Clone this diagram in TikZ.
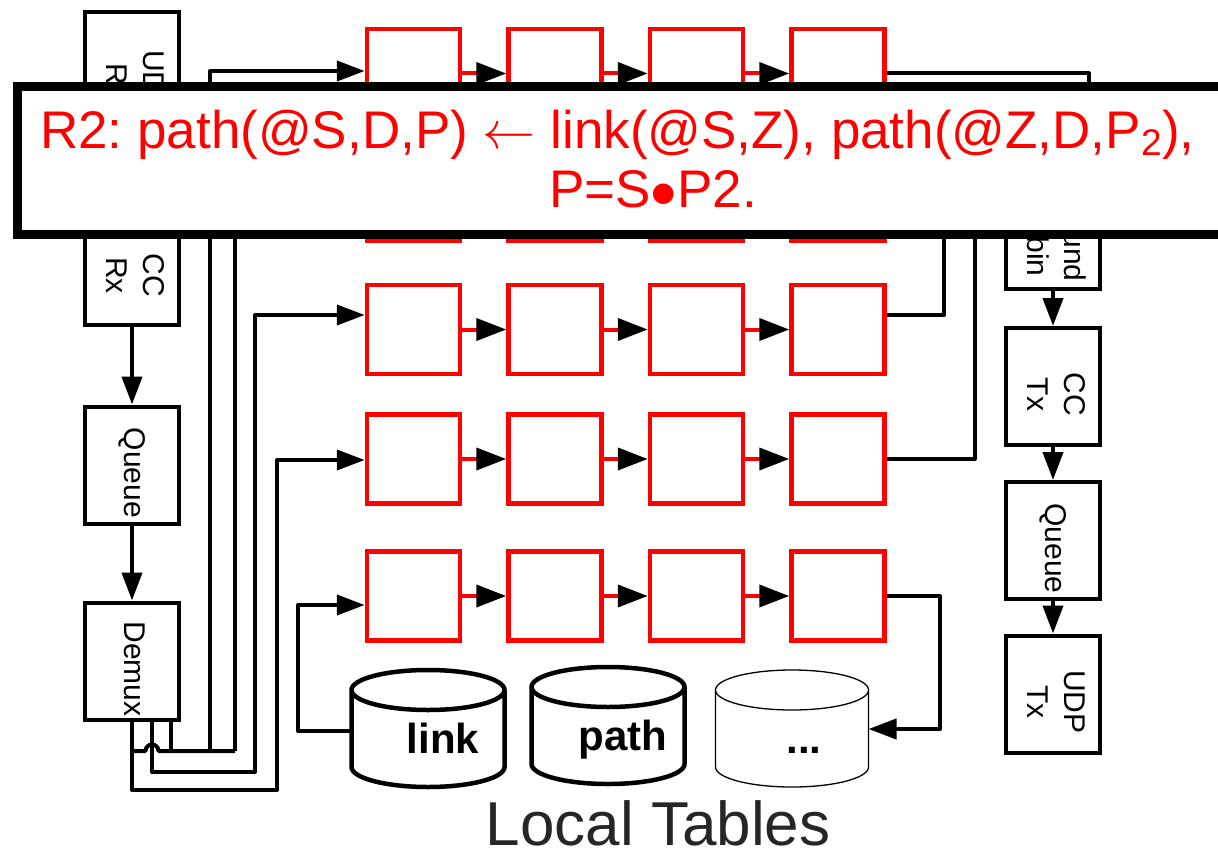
\documentclass[tikz,border=0pt]{standalone}
\usepackage{fix-cm}
\usepackage{fontspec}
\setmainfont{Liberation Sans}
\usetikzlibrary{arrows.meta}
\newcommand{\vtxt}[1]{\rotatebox{-90}{\hspace*{16pt}\begin{tabular}{@{}c@{}}#1\end{tabular}}}

\begin{document}
\begin{tikzpicture}[x=1pt, y=-1pt,
    blkbox/.style={draw, line width=4pt, minimum width=94pt, minimum height=117pt, inner sep=0pt, font=\fontsize{30}{37}\selectfont},
    cell/.style={draw=red, line width=4.5pt, minimum width=93pt, minimum height=89pt, inner sep=0pt},
    wire/.style={line width=4pt, line join=round},
    arrowed/.style={-{Triangle[length=28pt, width=20pt]}},
    redarr/.style={draw=red, line width=4pt, -{Triangle[length=30pt, width=22pt, color=black, fill=black]}},
    tbltxt/.style={font=\fontsize{42}{48}\selectfont\bfseries, anchor=base},
    ruletxt/.style={text=red, font=\fontsize{53}{60}\selectfont\frenchspacing, inner sep=0pt}]
    \useasboundingbox (0,0) rectangle (1218,851);
    \clip (0,0) rectangle (1218,851);

    % receive side
    \node[blkbox, minimum height=124pt] (udprx) at (132,74) {\vtxt{UDP\\Rx}};
    \node[blkbox, minimum height=115pt] (ccrx) at (132,267.5) {\vtxt{CC\\Rx}};
    \node[blkbox] (lq) at (132,465) {\vtxt{Queue}};
    \node[blkbox] (dmx) at (132,661) {\vtxt{Demux}};
    \draw[wire, arrowed] (udprx) -- (ccrx);
    \draw[wire, arrowed] (ccrx) -- (lq);
    \draw[wire, arrowed] (lq) -- (dmx);

    % send side
    \node[blkbox, minimum height=119pt] (rr) at (1053,229.5) {\vtxt{Round\\Robin}};
    \node[blkbox] (cct) at (1053,386.5) {\vtxt{CC\\Tx}};
    \node[blkbox] (rq) at (1053,540.5) {\vtxt{Queue}};
    \node[blkbox] (udptx) at (1053,694) {\vtxt{UDP\\Tx}};
    \draw[wire, arrowed] (rr) -- (cct);
    \draw[wire, arrowed] (cct) -- (rq);
    \draw[wire, arrowed] (rq) -- (udptx);

    % rule strands
    \foreach \row/\ry in {1/73.5, 2/196.5, 3/329.5, 4/459, 5/596} {
        \foreach \col in {1,...,4}
            \node[cell] (r\row\col) at ({413.5+141.5*(\col-1)}, \ry) {};
        \foreach \col [evaluate=\col as \nxt using int(\col+1)] in {1,2,3}
            \draw[redarr] (r\row\col) -- (r\row\nxt);
    }

    % local tables
    \foreach \cx/\cy/\lw in {428/690/4.5pt, 608/687/4.5pt, 792/690/1.3pt}
        \draw[line width=\lw] ({\cx-76.5},\cy) -- ({\cx-76.5},{\cy+77})
            arc[start angle=180, end angle=0, x radius=76.5, y radius=20]
            -- ({\cx+76.5},\cy) (\cx,\cy) ellipse [x radius=76.5, y radius=20];
    \node[tbltxt] (tlink) at (443,753) {link};
    \node[tbltxt] (tpath) at (623,750) {path};
    \node[tbltxt] (tdots) at (804,753) {...};
    \coordinate (linkw) at (351.5,731);
    \coordinate (dotse) at (868.5,729);
    \node[anchor=base, inner sep=0pt, font=\fontsize{62}{70}\selectfont, text=black!85] (lt) at (658,845) {Local Tables};

    % demux outputs
    \coordinate (j1) at (132,751);
    \coordinate (j2) at (210,751);
    \coordinate (j3) at (235,751);
    \draw[wire, arrowed] (dmx.south) |- (277,790) |- (r41.west |- 0,460);
    \draw[wire, arrowed] ([xshift=20pt]dmx.south) |- (255,772) |- (r31.west |- 0,315);
    \draw[wire] ([xshift=39pt]dmx.south) -- (171,751);
    \draw[wire] (j1) -- (145.5,751) arc[start angle=180, end angle=360, radius=6.5] -- (j3);
    \draw[wire, arrowed] (j2) |- (r11.west |- 0,71);
    \draw[wire, arrowed] (j3) |- (r21.west);
    \draw[wire, arrowed] (linkw) -- (298,731) |- (r51.west |- 0,605);

    % strand outputs
    \draw[wire, arrowed] (r14.east) -| ([xshift=36pt]rr.north);
    \draw[wire, arrowed] (r24.east) -- (rr.west |- r24.east);
    \draw[wire, arrowed] (r34.east |- 0,315) -| (944,205) -- (rr.west |- 0,205);
    \draw[wire, arrowed] (r44.east) -| (975,220) -- (rr.west |- 0,220);
    \draw[wire, arrowed] (r54.east) -| (940,729) -- (dotse);

    % rule banner
    \draw[line width=9pt, fill=white] (17,86) rectangle (1260,234);
    \node[ruletxt, anchor=base west] (rl1) at (40,148) {R2: path(@S,D,P) $\leftarrow$ link(@S,Z), path(@Z,D,P\textsubscript{2}),};
    \node[ruletxt, anchor=base] (rl2) at (653,207) {P=S${\bullet}$P2.};
\end{tikzpicture}
\end{document}
